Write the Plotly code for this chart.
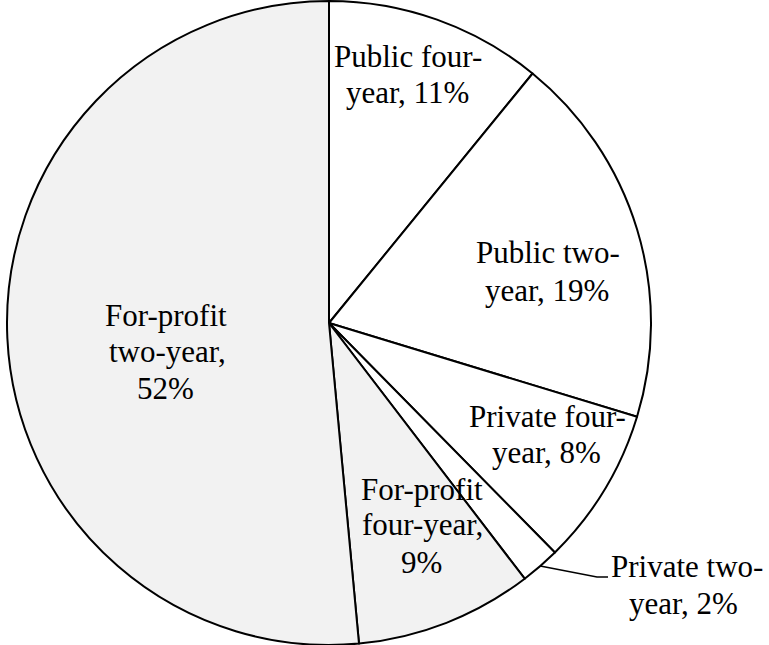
import math
import plotly.graph_objects as go

# Share of students by sector (percent)
sectors = ["Public four-year", "Public two-year", "Private four-year",
           "Private two-year", "For-profit four-year", "For-profit two-year"]
shares = [11, 19, 8, 2, 9, 52]
slice_colors = ["#ffffff", "#ffffff", "#ffffff", "#ffffff", "#f2f2f2", "#f2f2f2"]

# Label text, one list of lines per sector; "{v}" takes the share
label_lines = [
    ["Public four-", "year, {v}%"],
    ["Public two-", "year, {v}%"],
    ["Private four-", "year, {v}%"],
    ["Private two-", "year, {v}%"],
    ["For-profit", "four-year,", "{v}%"],
    ["For-profit", "two-year,", "{v}%"],
]

W, H = 769, 645
CX, CY, R = 329, 323, 322          # pie centre and radius in pixels
FONT = "Liberation Serif, Times New Roman, serif"
FS = 31

# per-line placement: (centre x, baseline y) in pixels
label_places = [
    [(408, 67), (407, 103)],
    [(548, 263), (547, 301)],
    [(547, 427), (546, 463)],
    [(687, 577), (683, 614)],
    [(422, 500), (422, 535), (421, 573)],
    [(166, 326), (167, 362), (165, 399)],
]

fig = go.Figure(go.Pie(
    labels=sectors,
    values=shares,
    sort=False,
    direction="clockwise",
    rotation=0,
    marker=dict(colors=slice_colors, line=dict(color="#000000", width=2)),
    textinfo="none",
    hoverinfo="none",
    showlegend=False,
    domain=dict(x=[(CX - R) / W, (CX + R) / W],
                y=[(H - CY - R) / H, (H - CY + R) / H]),
))

def px(x):
    return x / W

def py(y):
    return 1 - y / H

annotations = []
for lines, places, v in zip(label_lines, label_places, shares):
    for text, (x, base) in zip(lines, places):
        annotations.append(dict(
            text=text.format(v=v), x=px(x), y=py(base - 0.3375 * FS),
            xref="paper", yref="paper", xanchor="center", yanchor="middle",
            showarrow=False, font=dict(family=FONT, size=FS, color="#000000"),
        ))

# leader line for the small private two-year slice, from its mid-angle on the rim
total = sum(shares)
before = sum(shares[:3])
mid = (before + shares[3] / 2) / total * 2 * math.pi
sx, sy = CX + R * math.sin(mid), CY - R * math.cos(mid)
elbow = (597, 577)
end = (608, 577)
path = "M {} {} L {} {} L {} {}".format(px(sx), py(sy), px(elbow[0]), py(elbow[1]),
                                        px(end[0]), py(end[1]))

fig.update_layout(
    width=W, height=H,
    margin=dict(l=0, r=0, t=0, b=0),
    paper_bgcolor="#ffffff",
    plot_bgcolor="#ffffff",
    annotations=annotations,
    shapes=[dict(type="path", path=path, xref="paper", yref="paper",
                 line=dict(color="#000000", width=1.5))],
)

fig.write_html("out.html")
